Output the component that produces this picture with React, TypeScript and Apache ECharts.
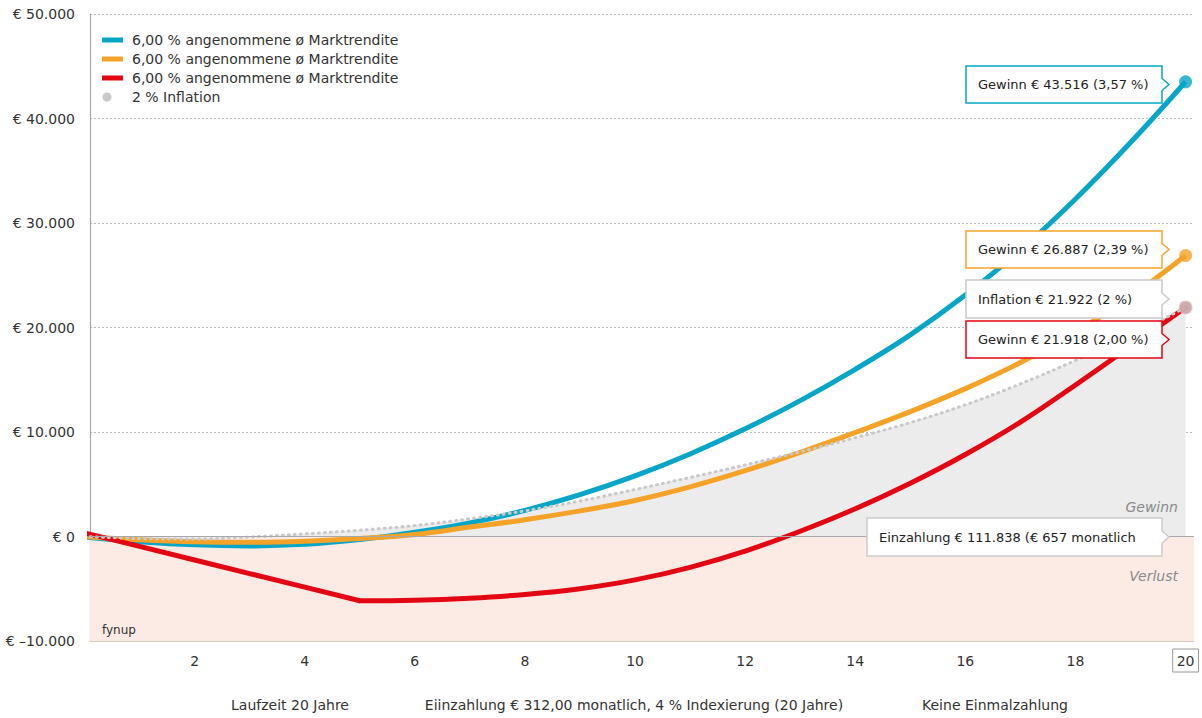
import React, { useEffect, useRef } from "react";
import * as echarts from "echarts";

const years = [0, 1, 2, 3, 4, 5, 6, 7, 8, 9, 10, 11, 12, 13, 14, 15, 16, 17, 18, 19, 20];
const blueValues = [-50, -500, -800, -900, -750, -300, 400, 1300, 2500, 4000, 5800, 7900, 10300, 13000, 16000, 19300, 23100, 27400, 32300, 37700, 43516];
const orangeValues = [0, -300, -500, -550, -450, -200, 200, 900, 1600, 2450, 3450, 4750, 6300, 8050, 9950, 11950, 14150, 16650, 19550, 22950, 26887];
const redValues = [350, -950, -2250, -3550, -4850, -6150, -6100, -5900, -5550, -5000, -4150, -2950, -1400, 500, 2650, 5100, 7850, 10950, 14500, 18200, 21918];
const inflationValues = [0, -200, -250, -50, 250, 600, 1050, 1700, 2450, 3400, 4500, 5650, 6850, 8100, 9450, 10900, 12600, 14600, 16850, 19250, 21922];

const xTickValues = [2, 4, 6, 8, 10, 12, 14, 16, 18, 20];
const yMin = -10000;
const yMax = 50000;
const yInterval = 10000;

const legendLabels = [
  "6,00 % angenommene ø Marktrendite",
  "6,00 % angenommene ø Marktrendite",
  "6,00 % angenommene ø Marktrendite",
  "2 % Inflation",
];
const calloutTexts = [
  "Gewinn € 43.516 (3,57 %)",
  "Gewinn € 26.887 (2,39 %)",
  "Inflation € 21.922 (2 %)",
  "Gewinn € 21.918 (2,00 %)",
  "Einzahlung € 111.838 (€ 657 monatlich",
];
const bottomTexts = [
  "Laufzeit 20 Jahre",
  "Eiinzahlung € 312,00 monatlich, 4 % Indexierung (20 Jahre)",
  "Keine Einmalzahlung",
];

const BLUE = "#07a5c7";
const ORANGE = "#f5a228";
const RED = "#e30613";
const GREY = "#c9c9c9";
const FONT = "'DejaVu Sans', 'Noto Sans', sans-serif";

const pairs = (vals: number[], from = 0, to = years.length) =>
  years.slice(from, to).map((x, i) => [x, vals[from + i]]);

const fmtEuro = (v: number) => {
  const s = String(Math.abs(v)).replace(/\B(?=(\d{3})+(?!\d))/g, ".");
  return v < 0 ? "€ –" + s : "€ " + s;
};

function callout(x: number, y: number, w: number, h: number, stroke: string, text: string) {
  const m = h / 2;
  return {
    type: "group",
    x,
    y,
    z: 100,
    children: [
      {
        type: "polygon",
        z: 100,
        shape: {
          points: [
            [0, 0],
            [w, 0],
            [w, m - 6],
            [w + 7, m],
            [w, m + 6],
            [w, h],
            [0, h],
          ],
        },
        style: { fill: "#ffffff", stroke, lineWidth: 1.5 },
      },
      {
        type: "text",
        z: 101,
        x: 12,
        y: m,
        style: {
          text,
          fill: "#222",
          font: `13px ${FONT}`,
          textVerticalAlign: "middle",
        },
      },
    ],
  };
}

export default function App() {
  const ref = useRef<HTMLDivElement>(null);

  useEffect(() => {
    document.body.style.margin = "0";
    if (!ref.current) return;
    const chart = echarts.init(ref.current, null, { renderer: "svg" });
    const last = years.length - 1;
    const legendColors = [BLUE, ORANGE, RED];
    const legendY = [40, 59, 78, 97];

    const legendGraphics: any[] = [];
    legendLabels.forEach((label, i) => {
      if (i < 3) {
        legendGraphics.push({
          type: "rect",
          z: 100,
          shape: { x: 102, y: legendY[i] - 2.5, width: 21, height: 5 },
          style: { fill: legendColors[i] },
        });
      } else {
        legendGraphics.push({
          type: "circle",
          z: 100,
          shape: { cx: 107, cy: legendY[i], r: 4.5 },
          style: { fill: GREY },
        });
      }
      legendGraphics.push({
        type: "text",
        z: 100,
        x: 132,
        y: legendY[i],
        style: {
          text: label,
          fill: "#333",
          font: `14px ${FONT}`,
          textVerticalAlign: "middle",
        },
      });
    });

    const labelRich = {
      color: "#333",
      fontSize: 14,
      fontFamily: FONT,
      padding: [5, 4, 4, 4],
    };

    const option: any = {
      animation: false,
      grid: { left: 90, right: 7, top: 14, bottom: 77 },
      xAxis: {
        type: "value",
        min: 0.1,
        max: 20.15,
        axisLine: { show: true, onZero: false, lineStyle: { color: "#d9c9c4", width: 1 } },
        axisTick: { show: false },
        splitLine: { show: false },
        axisLabel: {
          customValues: xTickValues,
          margin: 8,
          color: "#333",
          fontSize: 14,
          fontFamily: FONT,
          formatter: (v: number) => (v === 20 ? "{box|20}" : "{n|" + v + "}"),
          rich: {
            n: labelRich,
            box: { ...labelRich, borderColor: "#999", borderWidth: 1 },
          },
        },
      },
      yAxis: {
        type: "value",
        min: yMin,
        max: yMax,
        interval: yInterval,
        axisLine: { show: true, lineStyle: { color: "#a8a8a8", width: 1.2 } },
        axisTick: { show: false },
        axisLabel: {
          margin: 15,
          color: "#333",
          fontSize: 14,
          fontFamily: FONT,
          formatter: (v: number) => fmtEuro(v),
        },
        splitLine: { show: true, lineStyle: { color: "#bdbdbd", type: [2, 2], width: 1 } },
      },
      series: [
        {
          name: "area",
          type: "line",
          data: pairs(inflationValues),
          smooth: 0.4,
          symbol: "none",
          z: 1,
          lineStyle: { width: 0, opacity: 0 },
          areaStyle: { color: "#ececec", opacity: 1 },
          silent: true,
          markArea: {
            silent: true,
            itemStyle: { color: "#fcebe5" },
            data: [[{ yAxis: yMin }, { yAxis: 0 }]],
          },
          markLine: {
            silent: true,
            symbol: "none",
            label: { show: false },
            lineStyle: { color: "#a8a8a8", type: "solid", width: 1.2 },
            data: [{ yAxis: 0 }],
          },
        },
        {
          name: "blue",
          type: "line",
          data: pairs(blueValues),
          smooth: 0.4,
          symbol: "none",
          z: 3,
          lineStyle: { color: BLUE, width: 5 },
        },
        {
          name: "orange",
          type: "line",
          data: pairs(orangeValues),
          smooth: 0.4,
          symbol: "none",
          z: 3,
          lineStyle: { color: ORANGE, width: 5 },
        },
        {
          name: "redRamp",
          type: "line",
          data: pairs(redValues, 0, 6),
          smooth: false,
          symbol: "none",
          z: 3,
          lineStyle: { color: RED, width: 5, cap: "round", join: "round" },
        },
        {
          name: "redCurve",
          type: "line",
          data: pairs(redValues, 5),
          smooth: 0.4,
          symbol: "none",
          z: 3,
          lineStyle: { color: RED, width: 5, cap: "round" },
        },
        {
          name: "inflation",
          type: "line",
          data: pairs(inflationValues),
          smooth: 0.4,
          symbol: "none",
          z: 4,
          lineStyle: { color: GREY, width: 3, type: [1, 5], cap: "round" },
        },
        {
          name: "ends",
          type: "scatter",
          z: 5,
          symbol: "circle",
          data: [
            { value: [years[last], blueValues[last]], symbolSize: 13, itemStyle: { color: BLUE } },
            { value: [years[last], orangeValues[last]], symbolSize: 13, itemStyle: { color: ORANGE } },
            { value: [years[last], redValues[last]], symbolSize: 12, itemStyle: { color: RED } },
            { value: [years[last], inflationValues[last]], symbolSize: 14, itemStyle: { color: GREY } },
          ],
        },
      ],
      graphic: [
        ...legendGraphics,
        callout(966, 66, 196, 37, BLUE, calloutTexts[0]),
        callout(966, 231, 196, 37, ORANGE, calloutTexts[1]),
        callout(966, 280, 196, 38, GREY, calloutTexts[2]),
        callout(966, 321, 196, 37, RED, calloutTexts[3]),
        callout(867, 518, 295, 38, "#cccccc", calloutTexts[4]),
        {
          type: "text",
          z: 100,
          x: 1178,
          y: 507,
          style: {
            text: "Gewinn",
            fill: "#8a8a8a",
            font: `italic 14px ${FONT}`,
            textAlign: "right",
            textVerticalAlign: "middle",
          },
        },
        {
          type: "text",
          z: 100,
          x: 1178,
          y: 576,
          style: {
            text: "Verlust",
            fill: "#8a8a8a",
            font: `italic 14px ${FONT}`,
            textAlign: "right",
            textVerticalAlign: "middle",
          },
        },
        {
          type: "text",
          z: 100,
          x: 102,
          y: 630,
          style: {
            text: "fynup",
            fill: "#333",
            font: `12px ${FONT}`,
            textVerticalAlign: "middle",
          },
        },
        ...bottomTexts.map((t, i) => ({
          type: "text",
          z: 100,
          x: [290, 634, 995][i],
          y: 705,
          style: {
            text: t,
            fill: "#333",
            font: `14px ${FONT}`,
            textAlign: "center",
            textVerticalAlign: "middle",
          },
        })),
      ],
    };

    chart.setOption(option);
    return () => chart.dispose();
  }, []);

  return <div ref={ref} style={{ width: 1202, height: 718 }} />;
}
